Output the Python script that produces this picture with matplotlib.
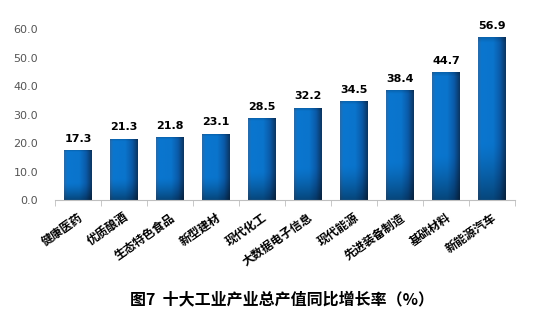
import numpy as np
import matplotlib.pyplot as plt
from matplotlib.colors import LinearSegmentedColormap

plt.rcParams['font.family'] = ['Noto Sans CJK SC', 'DejaVu Sans']

categories = ["健康医药", "优质酿酒", "生态特色食品", "新型建材", "现代化工",
              "大数据电子信息", "现代能源", "先进装备制造", "基础材料", "新能源汽车"]
values = [17.3, 21.3, 21.8, 23.1, 28.5, 32.2, 34.5, 38.4, 44.7, 56.9]
yticks = [0, 10, 20, 30, 40, 50, 60]

fig = plt.figure(figsize=(5.33, 3.27), dpi=100)
ax = fig.add_axes([0.103, 0.388, 0.863, 0.523])

# blue bar gradient: bright left-centre, dark at the right edge
cmap = LinearSegmentedColormap.from_list(
    "bar", [(0, "#2a6aa8"), (0.12, "#0a76cf"), (0.55, "#0a74cc"),
            (0.8, "#0a5aa8"), (1, "#0a3562")])
grad_x = np.linspace(0, 1, 64)
# vertical shading: thin soft edge at top, darker towards the bottom
yy = np.linspace(0, 1, 128)
top = 1 - 0.15 * np.clip(1 - yy / 0.03, 0, 1)
bottom = 1 - 0.4 * np.clip((yy - 0.65) / 0.35, 0, 1) ** 1.3
shade = top * bottom
grad = cmap(grad_x)[None, :, :3] * shade[:, None, None]

x = np.arange(len(categories))
w = 0.6
for xi, v in zip(x, values):
    ax.imshow(grad, extent=[xi - w / 2, xi + w / 2, 0, v], origin="upper",
              aspect="auto", zorder=2, interpolation="bilinear")
    ax.text(xi, v + 2.5, f"{v:.1f}", ha="center", va="bottom",
            fontsize=8, fontweight="bold", family="DejaVu Sans")

ax.set_xlim(-0.5, len(categories) - 0.5)
ax.set_ylim(0, 60)
ax.set_yticks(yticks)
ax.set_yticklabels([f"{t:.1f}" for t in yticks], color="#555555", fontsize=8,
                   family="DejaVu Sans")
ax.set_xticks(x)
ax.set_xticklabels(categories, rotation=35, ha="right", rotation_mode="anchor",
                   fontsize=8.5, fontweight="bold")
ax.set_xticks(np.arange(-0.5, len(categories)), minor=True)
ax.tick_params(axis="x", which="major", length=0, pad=8)
ax.tick_params(axis="x", which="minor", length=4, color="#bfbfbf")
ax.tick_params(axis="y", length=0, pad=12)
for s in ["top", "right", "left"]:
    ax.spines[s].set_visible(False)
ax.spines["bottom"].set_color("#bfbfbf")

fig.text(0.53, 0.085, "图7  十大工业产业总产值同比增长率（%）", ha="center",
         va="center", fontsize=11.5, fontweight="bold")

fig.savefig("out.png", dpi=100)
